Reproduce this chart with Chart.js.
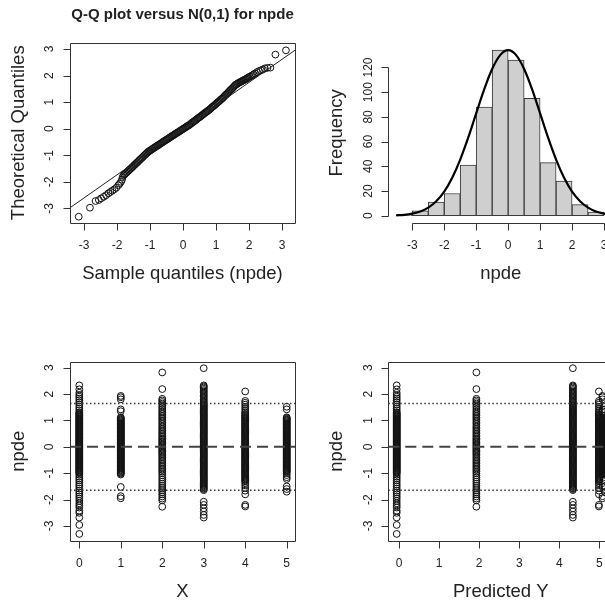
<!DOCTYPE html>
<html>
<head>
<meta charset="utf-8">
<script src="https://cdn.jsdelivr.net/npm/chart.js@4.4.1/dist/chart.umd.min.js"></script>
<style>
html, body { margin: 0; padding: 0; background: #fff; }
body { width: 605px; height: 601px; overflow: hidden; position: relative; }
canvas { position: absolute; left: 0; top: 0; }
</style>
</head>
<body>
<canvas id="qq" width="605" height="601"></canvas>
<canvas id="hist" width="640" height="601"></canvas>
<canvas id="byX" width="605" height="601"></canvas>
<canvas id="byPred" width="640" height="601"></canvas>
<script>
// Q-Q plot: sorted npde (x) vs N(0,1) quantiles (y)
const sampleQ = [-3.16,-2.82,-2.65,-2.55,-2.48,-2.4,-2.33,-2.26,-2.2,-2.14,
  -2.08,-2.02,-1.96,-1.92,-1.88,-1.85,-1.83,
  -1.8,-1.77,-1.74,-1.71,-1.68,-1.65,-1.62,-1.59,-1.56,-1.53,
  -1.5,-1.47,-1.44,-1.41,-1.38,-1.35,-1.32,-1.29,-1.26,-1.23,
  -1.2,-1.17,-1.14,-1.11,-1.08,-1.05,-1.02,-0.99,-0.96,-0.93,
  -0.9,-0.87,-0.84,-0.81,-0.78,-0.75,-0.72,-0.69,-0.66,-0.63,
  -0.6,-0.57,-0.54,-0.51,-0.48,-0.45,-0.42,-0.39,-0.36,-0.33,
  -0.3,-0.27,-0.24,-0.21,-0.18,-0.15,-0.12,-0.09,-0.06,-0.03,
  0.0,0.03,0.06,0.09,0.12,0.15,0.18,0.21,0.24,0.27,
  0.3,0.33,0.36,0.39,0.42,0.45,0.48,0.51,0.54,0.57,
  0.6,0.63,0.66,0.69,0.72,0.75,0.78,0.81,0.84,0.87,
  0.9,0.93,0.96,0.99,1.02,1.05,1.08,1.11,1.14,1.17,
  1.2,1.23,1.26,1.29,1.32,1.35,1.38,1.41,1.44,1.47,
  1.5,1.53,1.56,1.59,1.62,1.65,1.68,1.71,1.74,1.77,
  1.8,1.83,1.86,1.89,1.92,1.95,1.98,
  2.02,2.06,2.1,2.14,2.18,2.24,2.3,2.36,2.42,2.48,
  2.56,2.65,2.8,3.12];
const theoQ = [-3.31,-2.97,-2.72,-2.68,-2.62,-2.56,-2.5,-2.43,-2.38,-2.33,
  -2.28,-2.22,-2.13,-2.07,-2.0,-1.92,-1.82,
  -1.75,-1.72,-1.68,-1.65,-1.61,-1.58,-1.54,-1.51,-1.47,-1.44,
  -1.4,-1.36,-1.33,-1.29,-1.26,-1.22,-1.18,-1.15,-1.11,-1.08,
  -1.04,-1.0,-0.97,-0.93,-0.9,-0.86,-0.84,-0.81,-0.79,-0.76,
  -0.74,-0.71,-0.69,-0.66,-0.64,-0.62,-0.59,-0.57,-0.54,-0.52,
  -0.49,-0.47,-0.44,-0.42,-0.4,-0.37,-0.35,-0.32,-0.3,-0.27,
  -0.25,-0.23,-0.2,-0.18,-0.15,-0.13,-0.11,-0.08,-0.06,-0.03,
  -0.01,0.01,0.04,0.06,0.09,0.11,0.13,0.16,0.19,0.22,
  0.25,0.27,0.3,0.33,0.36,0.39,0.42,0.44,0.47,0.5,
  0.53,0.56,0.59,0.62,0.64,0.67,0.7,0.73,0.76,0.8,
  0.83,0.86,0.89,0.92,0.96,0.99,1.02,1.05,1.09,1.12,
  1.15,1.19,1.23,1.27,1.3,1.34,1.38,1.42,1.46,1.49,
  1.53,1.57,1.61,1.65,1.67,1.7,1.72,1.74,1.76,1.78,
  1.8,1.82,1.84,1.86,1.88,1.9,1.93,
  1.96,1.98,2.01,2.04,2.08,2.13,2.17,2.2,2.23,2.27,
  2.29,2.3,2.79,2.95];
const qqLineX = [-3.42, 3.4];
const qqLineY = [-2.97, 2.96];

// histogram of npde
const binCenters = [-3.25,-2.75,-2.25,-1.75,-1.25,-0.75,-0.25,0.25,0.75,1.25,1.75,2.25,2.75];
const binCounts = [1, 4, 11, 18, 41, 88, 134, 126, 95, 43, 28, 9, 3];
const curveX = [-3.5,-3.25,-3,-2.75,-2.5,-2.25,-2,-1.75,-1.5,-1.25,-1,-0.75,-0.5,-0.25,0,
  0.25,0.5,0.75,1,1.25,1.5,1.75,2,2.25,2.5,2.75,3,3.25,3.5];
const curveY = [0.4,0.8,1.8,3.5,6.6,11.8,19.6,30.8,45.5,63.2,82.9,102.3,118.8,130,134,
  130,118.8,102.3,82.9,63.2,45.5,30.8,19.6,11.8,6.6,3.5,1.8,0.8,0.4];

// npde by X group, and the predicted Y of each group
const xGroups = [0, 1, 2, 3, 4, 5];
const predY = [-0.06, 5.08, 1.93, 4.34, 4.99, 5.14];
const npdeX0 = [2.33,2.18,2.05,1.97,1.9,1.83,1.76,1.68,1.6,1.52,1.45,1.38,
  1.31,1.28,1.25,1.22,1.19,1.16,1.13,1.1,1.07,1.04,1.01,0.98,0.95,0.92,0.89,0.86,0.83,0.8,0.77,0.74,
  0.71,0.68,0.65,0.62,0.59,0.56,0.53,0.5,0.47,0.44,0.41,0.38,0.35,0.32,0.29,0.26,0.23,0.2,0.17,0.14,
  0.11,0.08,0.05,0.02,-0.01,-0.04,-0.07,-0.1,-0.13,-0.16,-0.19,-0.22,-0.25,-0.28,-0.31,-0.34,-0.37,-0.4,
  -0.43,-0.46,-0.49,-0.52,-0.55,-0.58,-0.61,-0.64,-0.67,-0.7,-0.73,-0.76,-0.79,-0.82,-0.85,-0.88,-0.91,-0.94,-0.97,-1.0,
  -1.06,-1.13,-1.2,-1.27,-1.35,-1.43,-1.5,-1.58,-1.66,-1.73,-1.8,-1.88,-1.96,-2.05,-2.14,-2.22,-2.3,-2.42,-2.5,-2.68,-2.96,-3.3];
const npdeX1 = [1.93,1.88,1.8,1.42,1.35,
  1.12,1.09,1.06,1.03,1.0,0.97,0.94,0.91,0.88,0.85,0.82,0.79,0.76,0.73,0.7,0.67,0.64,0.61,0.58,0.55,
  0.52,0.49,0.46,0.43,0.4,0.37,0.34,0.31,0.28,0.25,0.22,0.19,0.16,0.13,0.1,0.07,0.04,0.01,-0.02,-0.05,
  -0.08,-0.11,-0.14,-0.17,-0.2,-0.23,-0.26,-0.29,-0.32,-0.35,-0.38,-0.41,-0.44,-0.47,-0.5,-0.53,-0.56,-0.59,
  -0.62,-0.65,-0.68,-0.71,-0.74,-0.77,-0.8,-0.83,-0.86,-0.89,-0.92,-0.95,-0.98,-1.01,-1.05,
  -1.52,-1.87,-1.95];
const npdeX2 = [2.82,2.19,1.82,1.76,1.7,1.64,1.57,1.5,1.43,1.36,1.3,1.24,1.18,1.12,1.06,1.0,0.93,0.87,0.8,0.74,
  0.68,0.62,0.56,0.5,0.44,0.38,0.32,0.27,0.22,0.17,0.12,0.07,0.02,-0.03,-0.08,-0.13,-0.18,-0.23,-0.28,-0.34,
  -0.4,-0.46,-0.52,-0.58,-0.64,-0.7,-0.76,-0.82,-0.88,-0.94,-1.0,-1.08,-1.16,-1.24,-1.32,-1.4,-1.48,-1.56,-1.64,-1.72,
  -1.8,-1.88,-1.96,-2.03,-2.27];
const npdeX3 = [2.98,2.33,2.29,2.25,2.2,2.15,2.1,2.05,2.0,1.95,1.9,1.85,1.8,1.75,1.7,1.66,
  1.62,1.58,1.55,1.51,1.48,1.44,1.41,1.37,1.34,1.3,1.27,1.23,1.2,1.16,1.13,1.09,1.06,1.02,0.99,0.95,
  0.92,0.88,0.85,0.81,0.78,0.74,0.71,0.67,0.64,0.6,0.57,0.53,0.5,0.46,0.43,0.39,0.36,0.32,0.29,0.25,
  0.22,0.18,0.15,0.11,0.08,0.04,0.01,-0.03,-0.06,-0.1,-0.13,-0.17,-0.2,-0.24,-0.27,-0.31,-0.34,-0.38,
  -0.41,-0.45,-0.48,-0.52,-0.55,-0.59,-0.62,-0.66,-0.69,-0.73,-0.76,-0.8,-0.83,-0.87,-0.9,-0.94,-0.97,
  -1.01,-1.04,-1.08,-1.11,-1.15,-1.18,-1.22,-1.25,-1.29,-1.32,-1.36,-1.39,-1.43,-1.46,-1.5,-1.53,-1.57,-1.6,-1.64,
  -2.08,-2.2,-2.33,-2.45,-2.58,-2.68];
const npdeX4 = [2.1,1.74,1.67,1.6,1.52,1.44,1.36,1.3,
  1.25,1.21,1.18,1.14,1.11,1.07,1.04,1.0,0.97,0.93,0.9,0.86,0.83,0.79,0.76,0.72,0.69,0.65,0.62,0.58,
  0.55,0.51,0.48,0.44,0.41,0.37,0.34,0.3,0.27,0.23,0.2,0.16,0.13,0.09,0.06,0.02,-0.01,-0.05,-0.08,-0.12,
  -0.15,-0.19,-0.22,-0.26,-0.29,-0.33,-0.36,-0.4,-0.43,-0.47,-0.5,-0.54,-0.57,-0.61,-0.64,-0.68,-0.71,-0.75,
  -0.78,-0.82,-0.85,-0.89,-0.92,-0.96,-0.99,-1.03,-1.06,-1.1,-1.13,-1.17,-1.2,-1.24,-1.27,-1.31,
  -1.38,-1.46,-1.56,-1.66,-1.8,-2.2,-2.26];
const npdeX5 = [1.52,1.42,
  1.12,1.09,1.06,1.03,1.0,0.97,0.94,0.91,0.88,0.85,0.82,0.79,0.76,0.73,0.7,0.67,0.64,0.61,0.58,0.55,
  0.52,0.49,0.46,0.43,0.4,0.37,0.34,0.31,0.28,0.25,0.22,0.19,0.16,0.13,0.1,0.07,0.04,0.01,-0.02,-0.05,
  -0.08,-0.11,-0.14,-0.17,-0.2,-0.23,-0.26,-0.29,-0.32,-0.35,-0.38,-0.41,-0.44,-0.47,-0.5,-0.53,-0.56,-0.59,
  -0.62,-0.65,-0.68,-0.71,-0.74,-0.77,-0.8,-0.83,-0.86,-0.89,-0.92,-0.95,
  -1.0,-1.07,-1.15,-1.22,-1.5,-1.6,-1.7];
const npdeGroups = [npdeX0, npdeX1, npdeX2, npdeX3, npdeX4, npdeX5];
const refLevels = [-1.645, 0, 1.645];

const FONT = '"Liberation Sans", Arial, Helvetica, sans-serif';

// R-style axes, tick labels and titles drawn from the chart's scales
const rAxes = {
  id: 'rAxes',
  afterDraw(chart, args, o) {
    const { ctx, chartArea: a } = chart;
    const x = chart.scales.x, y = chart.scales.y;
    const px = v => Math.round(x.getPixelForValue(v)) + 0.5;
    const py = v => Math.round(y.getPixelForValue(v)) + 0.5;
    const L = Math.round(a.left) + 0.5, B = Math.round(a.bottom) + 0.5;
    ctx.save();
    ctx.strokeStyle = '#333';
    ctx.fillStyle = '#222';
    ctx.lineWidth = 1;
    ctx.beginPath();
    if (o.box) {
      ctx.rect(L, Math.round(a.top) + 0.5, Math.round(a.right) - Math.round(a.left), Math.round(a.bottom) - Math.round(a.top));
    } else {
      ctx.moveTo(px(o.xTicks[0]), B);
      ctx.lineTo(px(o.xTicks[o.xTicks.length - 1]), B);
      ctx.moveTo(L, py(o.yTicks[0]));
      ctx.lineTo(L, py(o.yTicks[o.yTicks.length - 1]));
    }
    o.xTicks.forEach(v => { ctx.moveTo(px(v), B); ctx.lineTo(px(v), B + 7); });
    o.yTicks.forEach(v => { ctx.moveTo(L, py(v)); ctx.lineTo(L - 7, py(v)); });
    ctx.stroke();

    ctx.textAlign = 'center';
    ctx.textBaseline = 'middle';
    ctx.font = '12px ' + FONT;
    o.xTicks.forEach(v => ctx.fillText(String(v), x.getPixelForValue(v), a.bottom + 23));
    o.yTicks.forEach(v => {
      ctx.save();
      ctx.translate(a.left - 20, y.getPixelForValue(v));
      ctx.rotate(-Math.PI / 2);
      ctx.fillText(String(v), 0, 0);
      ctx.restore();
    });
    ctx.font = '18.5px ' + FONT;
    ctx.fillText(o.xTitle, (a.left + a.right) / 2, a.bottom + 51);
    ctx.save();
    ctx.translate(a.left - 51, (a.top + a.bottom) / 2);
    ctx.rotate(-Math.PI / 2);
    ctx.fillText(o.yTitle, 0, 0);
    ctx.restore();
    if (o.title) {
      ctx.font = 'bold 15px ' + FONT;
      ctx.fillText(o.title, (a.left + a.right) / 2, a.top - 28);
    }
    ctx.restore();
  }
};

function baseOptions(xr, yr, pad, axes) {
  return {
    responsive: false,
    animation: false,
    events: [],
    layout: { padding: pad },
    plugins: { legend: { display: false }, tooltip: { enabled: false }, rAxes: axes },
    scales: {
      x: { type: 'linear', display: false, min: xr[0], max: xr[1] },
      y: { type: 'linear', display: false, min: yr[0], max: yr[1] }
    }
  };
}

const circle = {
  pointRadius: 3.4,
  pointBorderWidth: 1,
  pointBorderColor: '#111',
  pointBackgroundColor: 'rgba(0,0,0,0)',
  showLine: false
};

// top left: Q-Q plot
new Chart(document.getElementById('qq'), {
  type: 'scatter',
  data: {
    datasets: [
      {
        type: 'line',
        data: qqLineX.map((v, i) => ({ x: v, y: qqLineY[i] })),
        borderColor: '#222', borderWidth: 1, pointRadius: 0, order: 0
      },
      Object.assign({ data: sampleQ.map((v, i) => ({ x: v, y: theoQ[i] })), order: 1 }, circle)
    ]
  },
  options: baseOptions([-3.424, 3.394], [-3.528, 3.226],
    { left: 70, top: 43, right: 310, bottom: 378.5 },
    { box: true, xTicks: [-3, -2, -1, 0, 1, 2, 3], yTicks: [-3, -2, -1, 0, 1, 2, 3],
      xTitle: 'Sample quantiles (npde)', yTitle: 'Theoretical Quantiles',
      title: 'Q-Q plot versus N(0,1) for npde' }),
  plugins: [rAxes]
});

// top right: histogram with normal curve
const histOpts = baseOptions([-3.75, 3.29], [-5.6, 139.8],
  { left: 388.3, top: 43, right: 26.7, bottom: 378.3 },
  { box: false, xTicks: [-3, -2, -1, 0, 1, 2, 3], yTicks: [0, 20, 40, 60, 80, 100, 120],
    xTitle: 'npde', yTitle: 'Frequency' });
histOpts.scales.x.offset = false;
histOpts.scales.x.ticks = { stepSize: 0.5, includeBounds: false };
new Chart(document.getElementById('hist'), {
  type: 'bar',
  data: {
    datasets: [
      {
        type: 'line',
        data: curveX.map((v, i) => ({ x: v, y: curveY[i] })),
        borderColor: '#000', borderWidth: 2.2, pointRadius: 0,
        cubicInterpolationMode: 'monotone', order: 0
      },
      {
        type: 'bar',
        data: binCenters.map((v, i) => ({ x: v, y: binCounts[i] })),
        backgroundColor: '#cfcfcf', borderColor: '#3a3a3a', borderWidth: 1,
        borderSkipped: false, barPercentage: 1, categoryPercentage: 1, order: 1
      }
    ]
  },
  options: histOpts,
  plugins: [rAxes]
});

function refLineSets(xr) {
  return refLevels.map(lv => ({
    type: 'line',
    data: [{ x: xr[0], y: lv }, { x: xr[1], y: lv }],
    borderColor: lv === 0 ? '#444' : '#333',
    borderWidth: lv === 0 ? 2 : 1.5,
    borderDash: lv === 0 ? [11, 6] : [1.5, 2.5],
    pointRadius: 0,
    order: 0
  }));
}

function groupPoints(xs) {
  const pts = [];
  npdeGroups.forEach((g, i) => g.forEach(v => pts.push({ x: xs[i], y: v })));
  return pts;
}

// bottom left: npde vs X
const xRangeX = [-0.224, 5.2];
new Chart(document.getElementById('byX'), {
  type: 'scatter',
  data: {
    datasets: refLineSets(xRangeX).concat([
      Object.assign({ data: groupPoints(xGroups), order: 1 }, circle)
    ])
  },
  options: baseOptions(xRangeX, [-3.557, 3.227],
    { left: 70, top: 361.7, right: 310, bottom: 60.3 },
    { box: true, xTicks: [0, 1, 2, 3, 4, 5], yTicks: [-3, -2, -1, 0, 1, 2, 3],
      xTitle: 'X', yTitle: 'npde' }),
  plugins: [rAxes]
});

// bottom right: npde vs predicted Y
const xRangeP = [-0.27, 5.35];
new Chart(document.getElementById('byPred'), {
  type: 'scatter',
  data: {
    datasets: refLineSets(xRangeP).concat([
      Object.assign({ data: groupPoints(predY), order: 1 }, circle)
    ])
  },
  options: baseOptions(xRangeP, [-3.557, 3.227],
    { left: 388.3, top: 361.7, right: 26.7, bottom: 60.3 },
    { box: true, xTicks: [0, 1, 2, 3, 4, 5], yTicks: [-3, -2, -1, 0, 1, 2, 3],
      xTitle: 'Predicted Y', yTitle: 'npde' }),
  plugins: [rAxes]
});
</script>
</body>
</html>
